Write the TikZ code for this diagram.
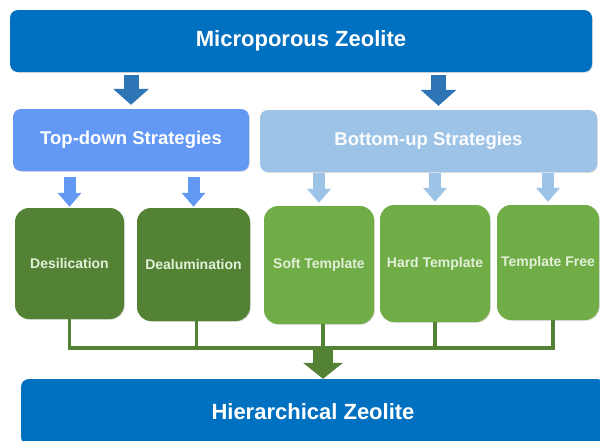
\documentclass[tikz,border=0pt]{standalone}
\usepackage{fontspec}
\setmainfont{Liberation Sans}
\usetikzlibrary{arrows.meta, shadows}
\definecolor{zeoblue}{HTML}{0070C0}
\definecolor{arrowblue}{HTML}{2E75B6}
\definecolor{topblue}{HTML}{6399F5}
\definecolor{botblue}{HTML}{9DC3E6}
\definecolor{darkgreen}{HTML}{548235}
\definecolor{lightgreen}{HTML}{70AD47}
\definecolor{paletext}{HTML}{E2F0D9}

\begin{document}
\begin{tikzpicture}[x=1pt, y=-1pt,
    box/.style = {rounded corners=8pt, inner sep=0pt, text=white,
      drop shadow={shadow xshift=0.8pt, shadow yshift=-0.8pt, opacity=0.25, fill=gray}},
    mainbox/.style = {box, fill=zeoblue, font=\fontsize{22}{26}\selectfont\bfseries},
    stratbox/.style = {box, font=\fontsize{18.5}{22}\selectfont\bfseries},
    methodbox/.style = {box, rounded corners=14pt, text=paletext,
      font=\fontsize{14}{17}\selectfont\bfseries},
    bigarrow/.style = {draw=arrowblue, line width=15pt, -{Triangle[width=35pt, length=16pt]}},
    smallarrow/.style = {line width=12pt, -{Triangle[width=23pt, length=14pt]}},
    link/.style = {draw=darkgreen, line width=3.3pt},
  ]
  \clip (0,0) rectangle (600,440);
  \fill[white] (0,0) rectangle (600,440);

  % top and bottom
  \node[mainbox, minimum width=582pt, minimum height=62pt] (micro) at (301,41) {Microporous Zeolite};
  \node[mainbox, minimum width=584pt, minimum height=66pt] (hier) at (313,412) {Hierarchical Zeolite};

  % strategies
  \node[stratbox, fill=topblue, minimum width=236pt, minimum height=62pt] (tds) at (131,140) {Top-down Strategies};
  \node[stratbox, fill=botblue, text=white!95!botblue, minimum width=337pt, minimum height=62pt] (bus) at (428.5,141) {Bottom-up Strategies};

  % methods
  \node[methodbox, fill=darkgreen, minimum width=109pt, minimum height=111pt] (desi) at (69.5,263.5) {Desilication};
  \node[methodbox, fill=darkgreen, minimum width=113pt, minimum height=113pt] (deal) at (193.5,264.5) {Dealumination};
  \node[methodbox, fill=lightgreen, minimum width=110pt, minimum height=118pt] (soft) at (319,265) {Soft Template};
  \node[methodbox, fill=lightgreen, minimum width=110pt, minimum height=117pt] (hard) at (435,263.5) {Hard Template};
  \node[methodbox, fill=lightgreen, minimum width=102pt, minimum height=115pt] (free) at (548,262.5) {Template Free};

  \coordinate (bustop) at ([xshift=10pt]bus.north);
  \coordinate (join) at (323,348);

  % arrows
  \draw[bigarrow] ([yshift=-3pt]micro.south -| tds.north) -- ([yshift=4pt]tds.north);
  \draw[bigarrow] ([yshift=-3pt]micro.south -| bustop) -- ([yshift=4pt]bustop);

  \draw[smallarrow, draw=topblue] ([yshift=-6pt]tds.south -| desi.north) -- ([yshift=1pt]desi.north);
  \draw[smallarrow, draw=topblue] ([yshift=-6pt]tds.south -| deal.north) -- ([yshift=1pt]deal.north);
  \draw[smallarrow, draw=botblue] ([yshift=-1pt]bus.south -| soft.north) -- ([yshift=3pt]soft.north);
  \draw[smallarrow, draw=botblue] ([yshift=-1pt]bus.south -| hard.north) -- ([yshift=3pt]hard.north);
  \draw[smallarrow, draw=botblue] ([yshift=-1pt]bus.south -| free.north) -- ([yshift=3pt]free.north);

  % collecting lines
  \draw[link] (desi.south) -- (desi.south |- join);
  \draw[link] ([xshift=3pt]deal.south) -- ([xshift=3pt]deal.south |- join);
  \draw[link] ([xshift=4pt]soft.south) -- ([xshift=4pt]soft.south |- join);
  \draw[link] (hard.south) -- (hard.south |- join);
  \draw[link] ([xshift=5pt]free.south) -- ([xshift=5pt]free.south |- join);
  \draw[link, line cap=rect] (desi.south |- join) -- ([xshift=5pt]free.south |- join);
  \draw[draw=darkgreen, line width=20pt, -{Triangle[width=39pt, length=16pt]}] (join) -- (hier.north -| join);
\end{tikzpicture}
\end{document}
